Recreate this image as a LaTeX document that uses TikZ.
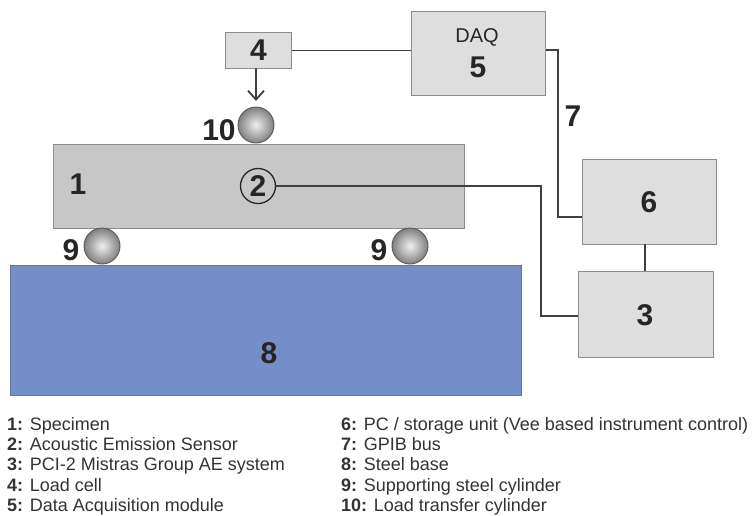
\documentclass[tikz,border=0pt]{standalone}
\usepackage{fontspec}
\usetikzlibrary{arrows.meta}
\setmainfont{Liberation Sans}
\begin{document}
\begin{tikzpicture}[x=1pt,y=-1pt,
 box/.style={draw=black!45,line width=0.9pt,fill=black!13,inner sep=0pt,anchor=north west},
 wire/.style={draw=black!75,line width=1.4pt},
 ball/.style={circle,draw=black!65,line width=0.9pt,minimum size=36pt,inner sep=0pt,inner color=black!6,outer color=black!50},
 num/.style={font=\bfseries\fontsize{30}{30}\selectfont,text=black!85,inner sep=0pt},
 leg/.style={anchor=base west,inner sep=0pt,font=\fontsize{18}{20}\selectfont,text=black!80}]
\useasboundingbox (0,0) rectangle (753,515);
\node[box,minimum width=411pt,minimum height=84pt,fill=black!22] (spec) at (53,144) {};
\node[box,minimum width=511pt,minimum height=130pt,fill={rgb,255:red,116;green,142;blue,200},draw={rgb,255:red,95;green,115;blue,165}] (base) at (10,265) {};
\node[box,minimum width=66pt,minimum height=36pt] (cell) at (225,32) {};
\node[box,minimum width=134pt,minimum height=84pt] (daq) at (411,11) {};
\node[box,minimum width=134pt,minimum height=85pt] (pc) at (582,159) {};
\node[box,minimum width=135pt,minimum height=86pt] (ae) at (578,271) {};
\node[ball] (top) at (256,125) {};
\node[ball] (s1) at (102,246) {};
\node[ball] (s2) at (410,246) {};
\node[circle,draw=black!85,line width=1.3pt,minimum size=35pt,inner sep=0pt] (sensor) at (258,186) {};
\coordinate (cellb) at (256,68);
\coordinate (arr) at (256,101);
\coordinate (d1) at (558,50);
\coordinate (d2) at (558,217);
\coordinate (p1) at (541,186);
\coordinate (p2) at (541,316);
\coordinate (pa) at (645,244);
\coordinate (pb) at (645,271);
\draw[wire] (cell.east) -- (daq.west |- cell.east);
\draw[wire] (daq.east |- d1) -- (d1) -- (d2) -- (pc.west |- d2);
\draw[wire] (sensor.east) -- (p1) -- (p2) -- (ae.west |- p2);
\draw[wire] (pa) -- (pb);
\draw[wire,line width=1.8pt,-{Straight Barb[length=9pt,width=16pt,line width=1.8pt]}] (cellb) -- (arr);
\node[num] at (cell.center) {4};
\node[num] at (sensor.center) {2};
\node[num] at (478,67) {5};
\node[font=\fontsize{20}{20}\selectfont,text=black!85,inner sep=0pt] at (477,37) {DAQ};
\node[num] at (649,202) {6};
\node[num] at (645,315) {3};
\node[num] at (269,353) {8};
\node[num] at (78,184) {1};
\node[num] at (573,116) {7};
\node[num] at (219,130) {10};
\node[num] at (71,250) {9};
\node[num] at (379,250) {9};
\node[leg] at (7,430) {\textbf{1:} Specimen};
\node[leg] at (7,450) {\textbf{2:} Acoustic Emission Sensor};
\node[leg] at (7,470) {\textbf{3:} PCI-2 Mistras Group AE system};
\node[leg] at (7,491) {\textbf{4:} Load cell};
\node[leg] at (7,511) {\textbf{5:} Data Acquisition module};
\node[leg] at (341,430) {\textbf{6:} PC / storage unit (Vee based instrument control)};
\node[leg] at (341,450) {\textbf{7:} GPIB bus};
\node[leg] at (341,470) {\textbf{8:} Steel base};
\node[leg] at (341,491) {\textbf{9:} Supporting steel cylinder};
\node[leg] at (341,511) {\textbf{10:} Load transfer cylinder};
\end{tikzpicture}
\end{document}
